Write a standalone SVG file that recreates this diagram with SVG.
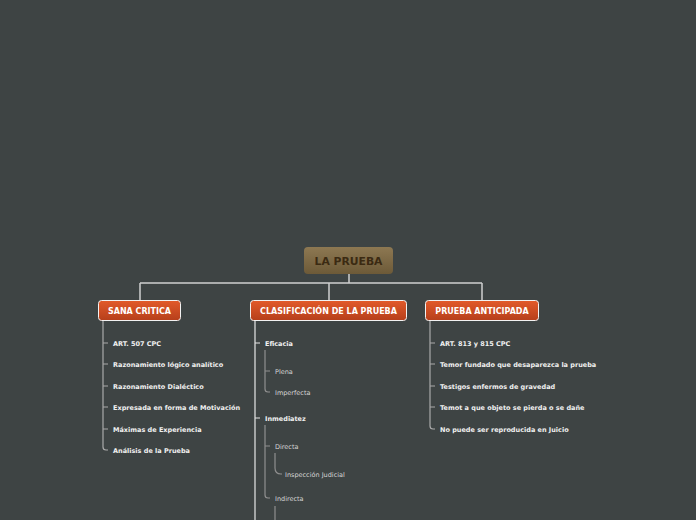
<svg xmlns="http://www.w3.org/2000/svg" width="696" height="520" viewBox="0 0 696 520">
<defs>
<linearGradient id="gRoot" x1="0" y1="0" x2="0" y2="1">
<stop offset="0" stop-color="#8d7852"/>
<stop offset="1" stop-color="#6d5a38"/>
</linearGradient>
<linearGradient id="gMain" x1="0" y1="0" x2="0" y2="1">
<stop offset="0" stop-color="#e25a2a"/>
<stop offset="1" stop-color="#b63f1b"/>
</linearGradient>
<style>
.bg{fill:#3e4444}
.root{fill:url(#gRoot)}
.rootT{font-family:"DejaVu Sans",Verdana,sans-serif;font-weight:bold;font-size:10.8px;fill:#3b2a12;text-anchor:middle}
.main{fill:url(#gMain);stroke:#f2f2f2;stroke-width:1}
.mainT{font-family:"DejaVu Sans",Verdana,sans-serif;font-weight:bold;font-size:8px;fill:#ffffff;text-anchor:middle}
.sub{font-family:"DejaVu Sans",Verdana,sans-serif;font-weight:bold;font-size:6.5px;fill:#f0f0f0}
.sub2{font-family:"DejaVu Sans",Verdana,sans-serif;font-size:6.5px;fill:#d6d6d6}
.l0{fill:none;stroke:#cfcfcf;stroke-width:1.5}
.l1{fill:none;stroke:#a9a9a9;stroke-width:1.2}
.l1b{fill:none;stroke:#e6e6e6;stroke-width:1.2}
.l2{fill:none;stroke:#8f8f8f;stroke-width:1.2}
</style>
</defs>
<rect class="bg" x="0" y="0" width="696" height="520"/>
<g id="connectors">
<path class="l0" d="M349 274 V283 M140 283 H482 M140 283 V300 M329 283 V300 M482 283 V300"/>
<path class="l1" d="M103 321 V447 Q103 450 106 450 H108 M103 343 H108 M103 364 H108 M103 386 H108 M103 407 H108 M103 429 H108"/>
<path class="l1" d="M430 321 V426 Q430 429 433 429 H435 M430 343 H435 M430 364 H435 M430 386 H435 M430 407 H435"/>
<path class="l1b" d="M255 321 V520 M255 343 H260 M255 418 H260"/>
<path class="l2" d="M265 350 V389 Q265 392 268 392 H270 M265 371 H270"/>
<path class="l2" d="M265 425 V495 Q265 498 268 498 H270 M265 446 H270"/>
<path class="l2" d="M275 453 V468 Q275 474 281 474 H282"/>
<path class="l2" d="M275 506 V520"/>
</g>
<g id="root">
<rect class="root" x="304" y="247" width="89" height="27" rx="4"/>
<text class="rootT" x="348.5" y="264.8">LA PRUEBA</text>
</g>
<g id="sana-critica">
<rect class="main" x="98.5" y="300.5" width="82" height="20" rx="3"/>
<text class="mainT" x="139.5" y="313.7">SANA CRITICA</text>
</g>
<g id="clasificacion">
<rect class="main" x="250.5" y="300.5" width="156" height="20" rx="3"/>
<text class="mainT" x="328.5" y="313.7">CLASIFICACIÓN DE LA PRUEBA</text>
</g>
<g id="prueba-anticipada">
<rect class="main" x="425.5" y="300.5" width="113" height="20" rx="3"/>
<text class="mainT" x="482" y="313.7">PRUEBA ANTICIPADA</text>
</g>
<g id="sana-items">
<text class="sub" x="113" y="345.5">ART. 507 CPC</text>
<text class="sub" x="113" y="366.5">Razonamiento lógico analítico</text>
<text class="sub" x="113" y="388.5">Razonamiento Dialéctico</text>
<text class="sub" x="113" y="409.5">Expresada en forma de Motivación</text>
<text class="sub" x="113" y="431.5">Máximas de Experiencia</text>
<text class="sub" x="113" y="452.5">Análisis de la Prueba</text>
</g>
<g id="clas-items">
<text class="sub" x="265" y="345.5">Eficacia</text>
<text class="sub2" x="275" y="373.5">Plena</text>
<text class="sub2" x="275" y="394.5">Imperfecta</text>
<text class="sub" x="265" y="420.5">Inmediatez</text>
<text class="sub2" x="275" y="448.5">Directa</text>
<text class="sub2" x="285" y="476.5">Inspección Judicial</text>
<text class="sub2" x="275" y="500.5">Indirecta</text>
</g>
<g id="anticipada-items">
<text class="sub" x="440" y="345.5">ART. 813 y 815 CPC</text>
<text class="sub" x="440" y="366.5">Temor fundado que desaparezca la prueba</text>
<text class="sub" x="440" y="388.5">Testigos enfermos de gravedad</text>
<text class="sub" x="440" y="409.5">Temot a que objeto se pierda o se dañe</text>
<text class="sub" x="440" y="431.5">No puede ser reproducida en Juicio</text>
</g>
</svg>
